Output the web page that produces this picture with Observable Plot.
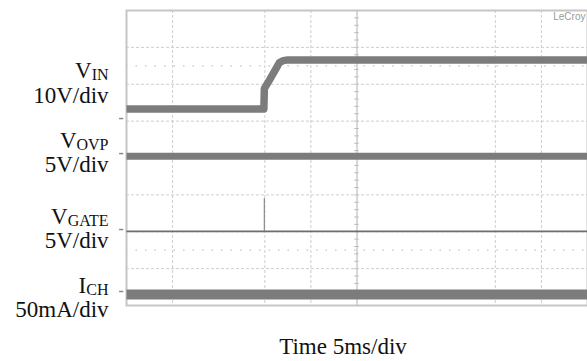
<!DOCTYPE html>
<html>
<head>
<meta charset="utf-8">
<script src="https://cdn.jsdelivr.net/npm/d3@7"></script>
<script src="https://cdn.jsdelivr.net/npm/@observablehq/plot@0.6"></script>
<style>
  html, body { margin: 0; padding: 0; background: #fff; }
  #chart { width: 587px; height: 361px; }
</style>
</head>
<body>
<div id="chart"></div>
<script>
// Oscilloscope capture, units: divisions (x: 10 div of 5 ms, y: 8 div)
const vinTime  = [0, 2.98, 2.99, 3.1, 3.2, 3.32, 3.4, 3.5, 10];
const vinLevel = [5.33, 5.33, 5.88, 6.11, 6.33, 6.59, 6.64, 6.66, 6.66];
const vovpTime  = [0, 10];
const vovpLevel = [4.05, 4.05];
const vgateTime  = [0, 10];
const vgateLevel = [2.01, 2.01];
const vgateGlitchTime = 2.99;
const vgateGlitchRange = [2.01, 2.90];
const ichTime  = [0, 10];
const ichLevel = [0.3, 0.3];
const groundMarks = [5.07, 4.12, 2.06, 0.38];

const channelMain = ["V", "V", "V", "I"];
const channelSub  = ["IN", "OVP", "GATE", "CH"];
const channelScale = ["10V/div", "5V/div", "5V/div", "50mA/div"];
const nameY  = [6.16, 4.28, 2.20, 0.33];
const scaleY = [5.48, 3.63, 1.55, -0.32];
const xTitle = "Time 5ms/div";
const brand = "LeCroy";

const gridX = [1, 3, 4, 8, 9];
const gridY = [1, 2, 3, 4, 5, 6, 7];
const minorRows = [6.5, 1.5];
const centerTicks = d3.range(0.2, 8, 0.2);

const toPts = (xs, ys) => xs.map((x, i) => ({x, y: ys[i]}));
const labels = channelMain.map((m, i) => ({
  name: m + channelSub[i], scale: channelScale[i], ny: nameY[i], sy: scaleY[i]
}));

const trace = "#7c7c7c";
const grid = "#cdcdcd";

const chart = Plot.plot({
  width: 587,
  height: 361,
  marginLeft: 126,
  marginRight: 0,
  marginTop: 10,
  marginBottom: 56,
  x: {domain: [0, 10], axis: null},
  y: {domain: [0, 8], axis: null},
  style: {fontFamily: "'Liberation Serif', 'Times New Roman', serif", background: "#fff"},
  marks: [
    Plot.ruleX(gridX, {stroke: grid, strokeDasharray: "3,2", strokeWidth: 1}),
    Plot.ruleX([5], {stroke: "#bdbdbd", strokeWidth: 1.2}),
    Plot.ruleY(centerTicks, {x1: 4.95, x2: 5.05, stroke: "#bdbdbd", strokeWidth: 1}),
    Plot.ruleY(gridY, {stroke: grid, strokeDasharray: "3,2", strokeWidth: 1}),
    Plot.ruleY(minorRows, {stroke: "#c4c4c4", strokeDasharray: "1.5,8", strokeWidth: 1.2}),
    Plot.frame({stroke: "#c6c6c6", strokeWidth: 2}),
    // traces
    Plot.line(toPts(vinTime, vinLevel), {x: "x", y: "y", stroke: trace, strokeWidth: 7.5, strokeLinejoin: "round", strokeLinecap: "butt"}),
    Plot.line(toPts(vovpTime, vovpLevel), {x: "x", y: "y", stroke: trace, strokeWidth: 7, strokeLinecap: "butt"}),
    Plot.line(toPts(vgateTime, vgateLevel), {x: "x", y: "y", stroke: "#6e6e6e", strokeWidth: 1.8, strokeLinecap: "butt"}),
    Plot.ruleX([vgateGlitchTime], {y1: vgateGlitchRange[0], y2: vgateGlitchRange[1], stroke: "#8a8a8a", strokeWidth: 1.2}),
    Plot.line(toPts(ichTime, ichLevel), {x: "x", y: "y", stroke: trace, strokeWidth: 10, strokeLinecap: "butt"}),
    // ground markers
    Plot.ruleY(groundMarks, {x1: -0.15, x2: -0.06, stroke: "#888", strokeWidth: 1.5}),
    // labels
    Plot.text(labels, {x: -0.39, y: "ny", text: "name", textAnchor: "end", lineAnchor: "bottom", fontSize: 23, fill: "#111"}),
    Plot.text(labels, {x: -0.39, y: "sy", text: "scale", textAnchor: "end", lineAnchor: "bottom", fontSize: 23, fill: "#111"}),
    Plot.text([xTitle], {frameAnchor: "bottom", dx: -14, dy: 48, lineAnchor: "bottom", fontSize: 23, fill: "#111"}),
    Plot.text([brand], {frameAnchor: "top-right", dx: -2, dy: 2, lineAnchor: "top", textAnchor: "end", fontSize: 10, fill: "#999", fontFamily: "'Liberation Sans', Arial, sans-serif", textDecoration: "underline"})
  ]
});

// Convert channel names into main letter + subscript tspans
const subMap = new Map(channelMain.map((m, i) => [m + channelSub[i], [m, channelSub[i]]]));
chart.querySelectorAll("text").forEach(t => {
  const parts = subMap.get(t.textContent);
  if (!parts) return;
  t.textContent = "";
  const a = document.createElementNS("http://www.w3.org/2000/svg", "tspan");
  a.textContent = parts[0];
  const b = document.createElementNS("http://www.w3.org/2000/svg", "tspan");
  b.textContent = parts[1];
  b.setAttribute("font-size", "16");
  b.setAttribute("dy", "2");
  t.appendChild(a);
  t.appendChild(b);
});

document.getElementById("chart").appendChild(chart);
</script>
</body>
</html>
